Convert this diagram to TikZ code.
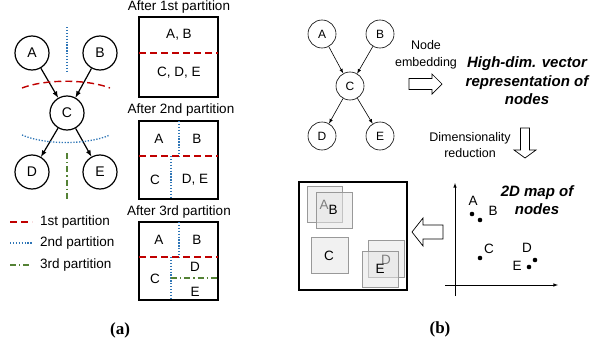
\documentclass[tikz,border=0pt]{standalone}
\usepackage{fontspec}
\setmainfont{Liberation Sans}
\newfontfamily\capfont{Liberation Serif}
\usetikzlibrary{arrows.meta}

\definecolor{partred}{RGB}{192,0,0}
\definecolor{partblue}{RGB}{46,117,182}
\definecolor{partgreen}{RGB}{84,130,53}

\begin{document}
\begin{tikzpicture}[x=1pt,y=-1pt,
	vtx/.style={draw, line width=1.2pt, circle, minimum size=34pt, inner sep=0pt, font=\fontsize{14}{16}\selectfont},
	vtxsmall/.style={draw, line width=0.6pt, circle, minimum size=28pt, inner sep=0pt, font=\fontsize{12}{14}\selectfont},
	cut1/.style={partred, line width=1.4pt, dash pattern=on 7pt off 4pt},
	cut2/.style={partblue, line width=1.3pt, dash pattern=on 1.3pt off 1.6pt},
	cut3/.style={partgreen, line width=1.3pt, dash pattern=on 6pt off 3pt on 1.3pt off 3pt},
	lbl/.style={font=\fontsize{13.5}{15}\selectfont, inner sep=0pt},
	boxtxt/.style={font=\fontsize{13.5}{15}\selectfont, inner sep=0pt},
	bigit/.style={font=\fontsize{15}{18.5}\selectfont\bfseries\itshape, align=center, inner sep=0pt},
	small/.style={font=\fontsize{12.5}{16.5}\selectfont, align=center, inner sep=0pt},
	tile/.style={draw=black!40, line width=0.8pt, fill=black!10, fill opacity=0.55},
	hollow/.style={draw, line width=0.7pt, fill=white},
]
	\useasboundingbox (0,0) rectangle (608,348);

	% (a) graph
	\node[vtx] (lA) at (32,53) {A};
	\node[vtx] (lB) at (100,53) {B};
	\node[vtx] (lC) at (67,113) {C};
	\node[vtx] (lD) at (32,172) {D};
	\node[vtx] (lE) at (100,172) {E};
	\draw[line width=1.2pt,-latex] (lA) -- (lC);
	\draw[line width=1.2pt,-latex] (lB) -- (lC);
	\draw[line width=1.2pt,-latex] (lC) -- (lD);
	\draw[line width=1.2pt,-latex] (lC) -- (lE);

	\draw[cut2] (67,27) -- (67,73);
	\draw[cut1] (22,88) .. controls (45,79) and (87,79) .. (110,88);
	\draw[cut2] (22,135) .. controls (45,145) and (87,145) .. (110,135);
	\draw[cut3] (67,153) -- (67,200);

	% legend
	\draw[cut1] (10,222) -- (32,222);
	\draw[cut2] (10,243) -- (32,243);
	\draw[cut3] (10,265) -- (32,265);
	\node[lbl, anchor=west] (leg1) at (40,222) {1st partition};
	\node[lbl, anchor=west] (leg2) at (40,243) {2nd partition};
	\node[lbl, anchor=west] (leg3) at (40,265) {3rd partition};

	% partition boxes
	\node[lbl] (t1) at (179,7) {After 1st partition};
	\draw[line width=1.3pt] (139,17) rectangle (218,97);
	\draw[cut1] (139,53) -- (218,53);
	\node[boxtxt] (b1ab) at (179,35) {A, B};
	\node[boxtxt] (b1cde) at (179,73) {C, D, E};

	\node[lbl] (t2) at (181,110) {After 2nd partition};
	\draw[line width=1.3pt] (139,121) rectangle (218,199);
	\draw[cut2] (179,121) -- (179,156);
	\draw[cut2] (171,156) -- (171,199);
	\draw[cut1] (139,156) -- (218,156);
	\node[boxtxt] (b2a) at (159,139) {A};
	\node[boxtxt] (b2b) at (197,139) {B};
	\node[boxtxt] (b2c) at (155,180) {C};
	\node[boxtxt] (b2de) at (195,180) {D, E};

	\node[lbl] (t3) at (179,212) {After 3rd partition};
	\draw[line width=1.3pt] (139,222) rectangle (218,300);
	\draw[cut2] (179,222) -- (179,257);
	\draw[cut2] (171,257) -- (171,300);
	\draw[cut1] (139,257) -- (218,257);
	\draw[cut3] (171,278) -- (218,278);
	\node[boxtxt] (b3a) at (159,240) {A};
	\node[boxtxt] (b3b) at (197,240) {B};
	\node[boxtxt] (b3c) at (155,279) {C};
	\node[boxtxt] (b3d) at (195,267) {D};
	\node[boxtxt] (b3e) at (195,292) {E};

	\node[font=\fontsize{17}{20}\selectfont\capfont\bfseries] (capa) at (120,330) {(a)};

	% (b) graph
	\node[vtxsmall] (rA) at (322,34) {A};
	\node[vtxsmall] (rB) at (380,34) {B};
	\node[vtxsmall] (rC) at (350,86) {C};
	\node[vtxsmall] (rD) at (322,136) {D};
	\node[vtxsmall] (rE) at (380,136) {E};
	\draw[line width=0.6pt,-latex] (rA) -- (rC);
	\draw[line width=0.6pt,-latex] (rB) -- (rC);
	\draw[line width=0.6pt,-latex] (rC) -- (rD);
	\draw[line width=0.6pt,-latex] (rC) -- (rE);

	\node[small] (embed) at (426,55) {Node\\embedding};
	\draw[hollow] (409,78.5) -- (432,78.5) -- (432,74) -- (442,84) -- (432,94) -- (432,89.5) -- (409,89.5) -- cycle;
	\node[bigit] (hidim) at (527,81) {High-dim. vector\\representation of\\nodes};

	\node[small] (dimred) at (470,145) {Dimensionality\\reduction};
	\draw[hollow] (520.5,128) -- (529.5,128) -- (529.5,150) -- (536,150) -- (525,158) -- (514,150) -- (520.5,150) -- cycle;

	% 2D map
	\draw[line width=0.6pt,-latex] (455,296) -- (455,183);
	\draw[line width=0.6pt,-latex] (445,285) -- (558,285);
	\node[bigit] (map) at (537,200) {2D map of\\nodes};
	\fill (472,214) circle (2.3pt);
	\fill (480,220) circle (2.3pt);
	\fill (480,258) circle (2.3pt);
	\fill (535,260) circle (2.3pt);
	\fill (529,267) circle (2.3pt);
	\node[lbl] (pA) at (473,201) {A};
	\node[lbl] (pB) at (493,211) {B};
	\node[lbl] (pC) at (489,249) {C};
	\node[lbl] (pD) at (527,248) {D};
	\node[lbl] (pE) at (517,266) {E};

	\draw[hollow] (443,225) -- (423,225) -- (423,218) -- (412,232) -- (423,246) -- (423,239) -- (443,239) -- cycle;

	% layout
	\draw[line width=1.1pt] (299,182) rectangle (407,290);
	\draw[tile] (307,186) rectangle (342,222);
	\node[lbl] (sA) at (324,205) {A};
	\draw[tile] (316,192) rectangle (352,228);
	\node[lbl] (sB) at (333,210) {B};
	\draw[tile] (311,237) rectangle (348,273);
	\node[lbl] (sC) at (329,256) {C};
	\draw[tile] (368,240) rectangle (404,277);
	\node[lbl] (sD) at (386,260) {D};
	\draw[tile] (362,251) rectangle (398,287);
	\node[lbl] (sE) at (380,269) {E};

	\node[font=\fontsize{17}{20}\selectfont\capfont\bfseries] (capb) at (440,329) {(b)};
\end{tikzpicture}
\end{document}
